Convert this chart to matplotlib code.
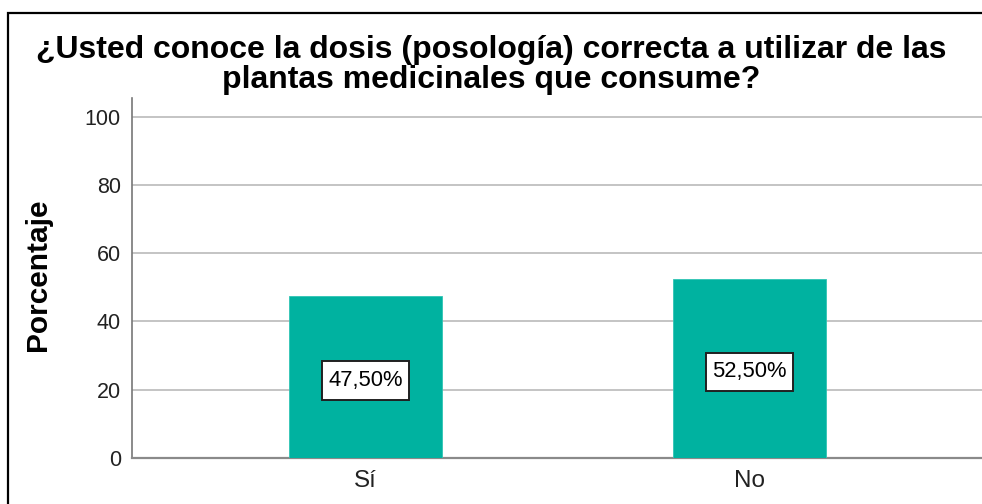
import matplotlib.pyplot as plt
from matplotlib.patches import Rectangle
from matplotlib.path import Path

# data
categories = ["Sí", "No"]
percentages = [47.5, 52.5]
value_labels = ["47,50%", "52,50%"]
y_ticks = [0, 20, 40, 60, 80, 100]

title = "¿Usted conoce la dosis (posología) correcta a utilizar de las\nplantas medicinales que consume?"

plt.rcParams['font.family'] = ['Liberation Sans', 'DejaVu Sans']


def label_box(x0, y0, width, height, mutation_size):
    # square box, more padding top/bottom than left/right
    px = 0.27 * mutation_size
    py = 0.40 * mutation_size
    x0, x1 = x0 - px, x0 + width + px
    y0, y1 = y0 - py, y0 + height + py
    verts = [(x0, y0), (x1, y0), (x1, y1), (x0, y1), (x0, y0)]
    codes = [Path.MOVETO, Path.LINETO, Path.LINETO, Path.LINETO, Path.CLOSEPOLY]
    return Path(verts, codes)


fig = plt.figure(figsize=(9.82, 5.04), dpi=100)
ax = fig.add_axes([0.1344, 0.0913, 0.8666, 0.7143])

# outer frame (right and bottom sides are cropped in the reference)
fig.patches.append(Rectangle((0.0085, -0.05), 1.1, 1.024, transform=fig.transFigure,
                             fill=False, edgecolor='black', linewidth=1.6))

x = list(range(len(categories)))
ax.bar(x, percentages, width=0.4, color='#00b2a0', edgecolor='#30c4b4',
       linewidth=0.6, zorder=3)

for xi, val, lab in zip(x, percentages, value_labels):
    ax.text(xi, val / 2 - 1, lab, ha='center', va='center', fontsize=15.8, color='black',
            zorder=4,
            bbox=dict(boxstyle=label_box, facecolor='white',
                      edgecolor='#202020', linewidth=1.4))

ax.set_xlim(-0.608, 1.608)
ax.set_ylim(0, 105.5)
ax.set_yticks(y_ticks)
ax.set_xticks(x)
ax.set_xticklabels(categories, fontsize=17.5, color='#222222')
ax.tick_params(axis='y', length=0, labelsize=15.5, labelcolor='#222222', pad=8)
ax.tick_params(axis='x', length=0, pad=9)

ax.grid(axis='y', color='#c4c4c4', linewidth=1.4, zorder=0)
ax.set_axisbelow(True)
for side in ['top', 'right']:
    ax.spines[side].set_visible(False)
ax.spines['left'].set_color('#777777')
ax.spines['bottom'].set_color('#8a8a8a')
ax.spines['left'].set_linewidth(1.2)
ax.spines['bottom'].set_linewidth(1.6)

ax.set_ylabel('Porcentaje', fontsize=21.5, fontweight='bold')
ax.yaxis.set_label_coords(-0.094, 0.51)

fig.text(0.5, 0.871, title, ha='center', va='center', fontsize=23,
         fontweight='bold', linespacing=1.04)

fig.savefig('out.png', dpi=100)
